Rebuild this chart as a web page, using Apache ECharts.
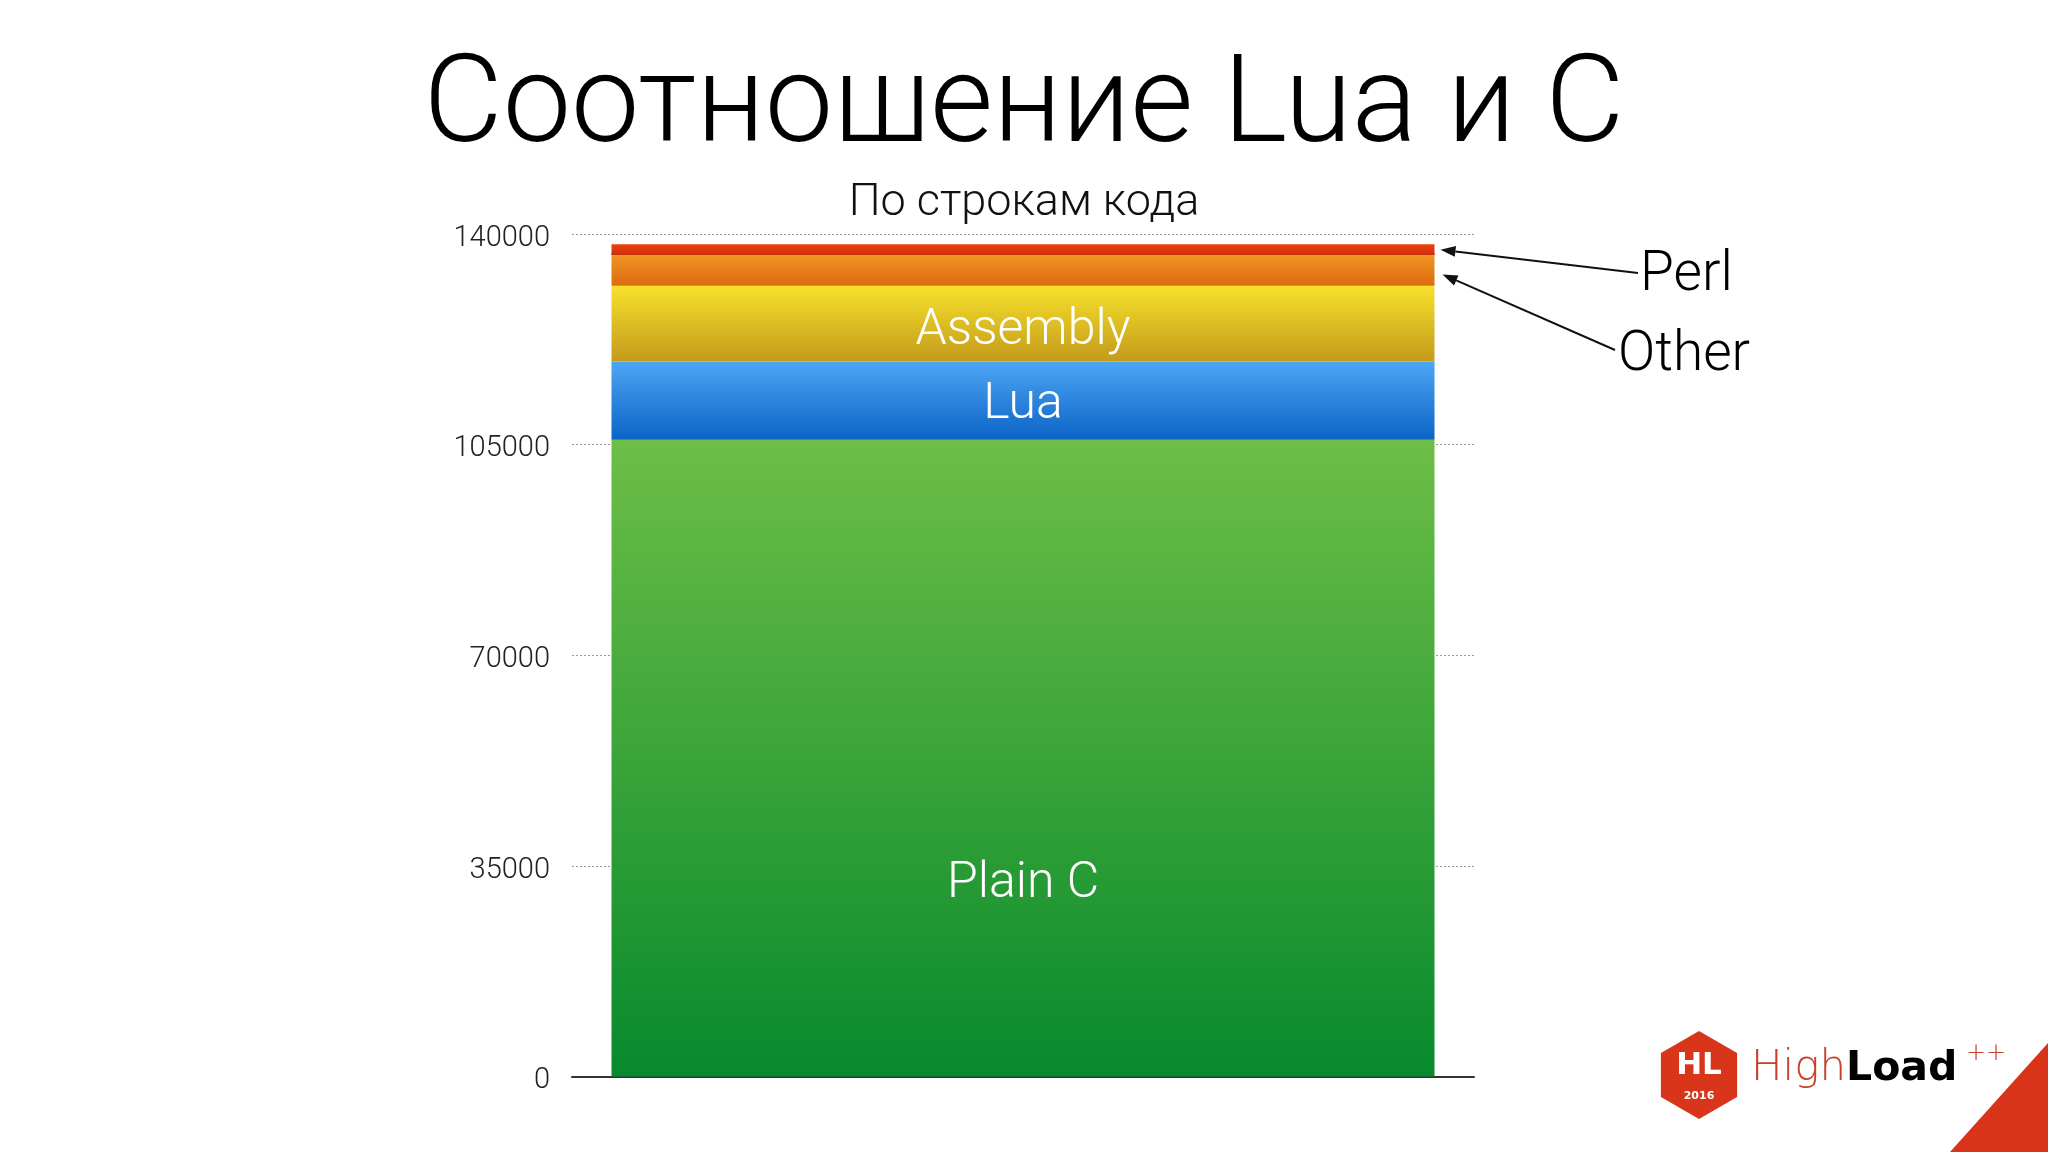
<!DOCTYPE html>
<html><head><meta charset="utf-8">
<script src="https://cdn.jsdelivr.net/npm/echarts@6/dist/echarts.min.js"></script>
<style>html,body{margin:0;padding:0;background:#fff}#c{width:2048px;height:1152px}</style>
</head><body><div id="c"></div>
<script>
// ---- data ----
const categories = ['По строкам кода'];
const seriesNames = ['Plain C', 'Lua', 'Assembly', 'Other', 'Perl'];
const plainC = [105800];
const lua = [13000];
const assembly = [12600];
const other = [5100];
const perl = [1800];
const yTickValues = [0, 35000, 70000, 105000, 140000];
const titleText = 'Соотношение Lua и C';
const subtitleText = 'По строкам кода';

const FONT = 'Roboto';
const chart = echarts.init(document.getElementById('c'), null, {renderer: 'canvas'});
function grad(top, bottom) {
  return new echarts.graphic.LinearGradient(0, 0, 0, 1, [{offset: 0, color: top}, {offset: 1, color: bottom}]);
}
const lbl = (pos) => ({
  show: true, position: pos, align: 'center', verticalAlign: 'middle',
  color: '#fff', fontSize: 50, fontWeight: 300, fontFamily: FONT,
  offset: [0, 5],
  formatter: '{a}'
});
const BARW = 823;
const seriesDefs = [
  {data: plainC, color: grad('#6dbe46', '#078a2d'), label: lbl(['50%', '69%'])},
  {data: lua, color: grad('#4da6f4', '#0b63c6'), label: lbl(['50%', '50%'])},
  {data: assembly, color: grad('#f7e12c', '#c39a1b'), label: lbl(['50%', '54%'])},
  {data: other, color: grad('#f29424', '#dc6a10'), label: {show: false}},
  {data: perl, color: grad('#ee420e', '#c8300a'), label: {show: false}}
];

chart.setOption({
  backgroundColor: '#ffffff',
  animation: false,
  title: [
    {text: titleText, left: 'center', top: 44,
     textStyle: {fontSize: 122, fontWeight: 300, fontFamily: FONT, color: '#000'}},
    {text: subtitleText, left: 'center', top: 176,
     textStyle: {fontSize: 45, fontWeight: 300, fontFamily: FONT, color: '#111'}}
  ],
  grid: {left: 572, right: 574, top: 234, bottom: 75.5},
  xAxis: {
    type: 'category', data: categories,
    axisLine: {show: true, lineStyle: {color: '#333', width: 2}},
    axisTick: {show: false}, axisLabel: {show: false}
  },
  yAxis: {
    type: 'value', min: yTickValues[0], max: yTickValues[yTickValues.length - 1],
    interval: yTickValues[1] - yTickValues[0],
    axisLine: {show: false}, axisTick: {show: false},
    axisLabel: {margin: 22, formatter: (v) => '{t|' + v + '}',
      rich: {t: {fontSize: 29, color: '#222', fontFamily: FONT, fontWeight: 300, padding: [9, 0, 0, 0]}}},
    splitLine: {show: true, lineStyle: {color: '#9a9a9a', type: [2, 2], width: 1}}
  },
  series: seriesDefs.map((s, i) => ({
    name: seriesNames[i], type: 'bar', stack: 'total', barWidth: BARW,
    data: s.data, itemStyle: {color: s.color}, label: s.label
  }))
});

// ---- annotations (arrows anchored to data) ----
function cum(idx) { let t = 0; for (let i = 0; i < idx; i++) t += seriesDefs[i].data[0]; return t; }
const cx = chart.convertToPixel({xAxisIndex: 0}, categories[0]);
const tipX = cx + BARW / 2 + 6;
const perlY = chart.convertToPixel({yAxisIndex: 0}, cum(4) + perl[0] / 2);
const otherY = chart.convertToPixel({yAxisIndex: 0}, cum(3) + other[0] / 2);
const perlBottomY = chart.convertToPixel({yAxisIndex: 0}, cum(4));

function arrow(x1, y1, x2, y2) {
  const ang = Math.atan2(y2 - y1, x2 - x1);
  const L = 15, W = 5.5;
  const bx = x2 - L * Math.cos(ang), by = y2 - L * Math.sin(ang);
  const px = -Math.sin(ang) * W, py = Math.cos(ang) * W;
  return [
    {type: 'line', shape: {x1: x1, y1: y1, x2: bx, y2: by}, style: {stroke: '#111', lineWidth: 2}},
    {type: 'polygon', shape: {points: [[x2, y2], [bx + px, by + py], [bx - px, by - py]]}, style: {fill: '#111'}}
  ];
}

const hexC = [1699, 1075], hexR = 44;
const hexPts = [];
for (let k = 0; k < 6; k++) {
  const a = -Math.PI / 2 + k * Math.PI / 3;
  hexPts.push([hexC[0] + hexR * Math.cos(a), hexC[1] + hexR * Math.sin(a)]);
}

chart.setOption({
  graphic: [
    // thin dark seam under the Perl band
    {type: 'line', shape: {x1: cx - BARW / 2, y1: perlBottomY - 1, x2: cx + BARW / 2, y2: perlBottomY - 1},
     style: {stroke: '#c2330c', lineWidth: 2, lineDash: [6, 3]}},
    ...arrow(1638, 273, tipX, perlY),
    ...arrow(1615, 350, tipX + 2, otherY + 4),
    {type: 'text', x: 1640, y: 276, style: {text: 'Perl', fontSize: 55, fontWeight: 300, fontFamily: FONT, fill: '#000', verticalAlign: 'middle'}},
    {type: 'text', x: 1618, y: 356, style: {text: 'Other', fontSize: 55, fontWeight: 300, fontFamily: FONT, fill: '#000', verticalAlign: 'middle'}},
    // corner triangle
    {type: 'polygon', shape: {points: [[2048, 1043], [2048, 1152], [1950, 1152]]}, style: {fill: '#d9341a'}},
    // logo
    {type: 'polygon', shape: {points: hexPts}, style: {fill: '#d8351b'}},
    {type: 'text', x: 1699, y: 1066, style: {text: 'HL', fontSize: 31, fontWeight: 'bold', fontFamily: 'DejaVu Sans', fill: '#fff', align: 'center', verticalAlign: 'middle'}},
    {type: 'text', x: 1699, y: 1096, style: {text: '2016', fontSize: 11, fontWeight: 'bold', fontFamily: 'DejaVu Sans', fill: '#fff', align: 'center', verticalAlign: 'middle'}},
    {type: 'text', x: 1751, y: 1069, style: {
      text: '{h|High}{l|Load}', verticalAlign: 'middle',
      rich: {
        h: {fontSize: 42, fontWeight: 200, fontFamily: 'DejaVu Sans', fill: '#c8402a', color: '#c8402a'},
        l: {fontSize: 41, fontWeight: 'bold', fontFamily: 'DejaVu Sans', fill: '#000', color: '#000'}
      }}},
    {type: 'text', x: 1966, y: 1054, style: {text: '++', fontSize: 24, fontWeight: 200, fontFamily: 'DejaVu Sans', fill: '#c8402a', verticalAlign: 'middle'}}
  ]
});
</script></body></html>
